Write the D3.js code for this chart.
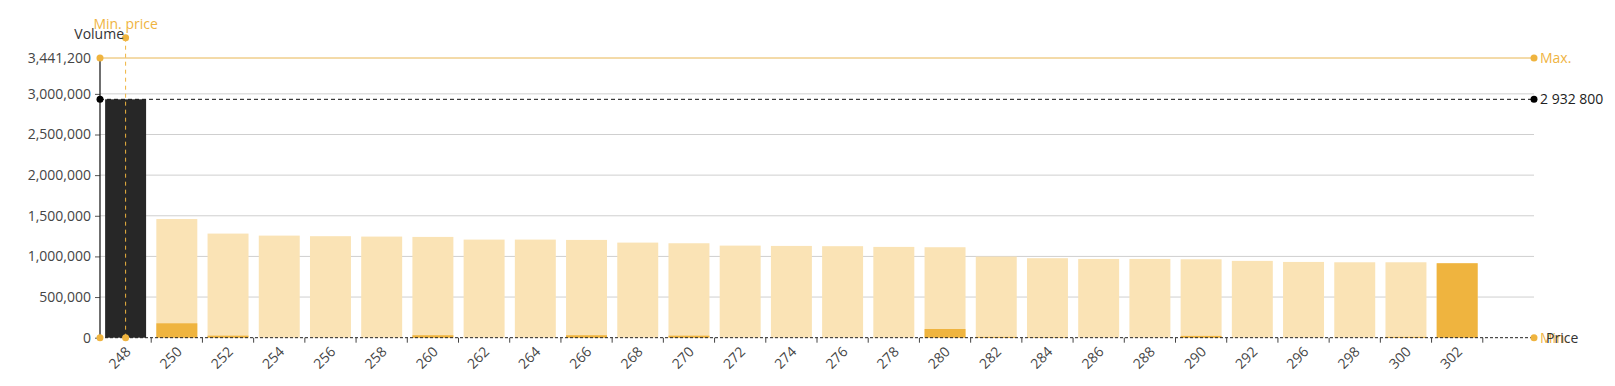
<!DOCTYPE html>
<html>
<head>
<meta charset="utf-8">
<script src="https://cdn.jsdelivr.net/npm/d3@7/dist/d3.min.js"></script>
<style>
  html, body { margin: 0; padding: 0; background: #fff; }
  svg { display: block; font-family: "Open Sans", "Noto Sans", sans-serif; }
</style>
</head>
<body>
<svg id="chart" width="1615" height="386"></svg>
<script>
// ---- data ----
const categories = ["248","250","252","254","256","258","260","262","264","266","268","270","272","274","276","278","280","282","284","286","288","290","292","296","298","300","302"];
const volumes = [2932800,1460000,1281000,1256000,1249000,1244000,1240000,1207000,1207000,1203000,1170000,1162000,1133000,1129000,1126000,1117000,1113000,998000,978000,969000,969000,965000,945000,932000,928000,928000,916000];
const highlighted = [0,177000,25000,0,0,0,30000,0,0,30000,0,25000,0,0,0,0,107000,10000,5000,0,0,22000,0,0,0,10000,916000];
const yTicks = [0,500000,1000000,1500000,2000000,2500000,3000000];
const yMaxValue = 3441200;
const refValue = 2932800;
const minPriceCategory = "248";
const labels = { yTitle: "Volume", xTitle: "Price", minPrice: "Min. price", max: "Max.", min: "Min." };

(function () {
// ---- layout ----
const mLeft = 100, mRight = 1534, mTop = 58, mBottom = 337.7;
const ORANGE = "#EFB43F", LIGHT = "#FAE3B5", DARK = "#272727", LINE_OR = "#E8B652";

const svg = d3.select("#chart");
const xDomain = categories.concat(["__empty__"]);
const x = d3.scaleBand().domain(xDomain).range([mLeft, mRight]).paddingInner(0.2).paddingOuter(0.1);
const y = d3.scaleLinear().domain([0, yMaxValue]).range([mBottom, mTop]);
const step = x.step();
const maxVol = d3.max(volumes);

// gridlines
svg.append("g").selectAll("line").data(yTicks.filter(d => d > 0)).join("line")
  .attr("x1", mLeft).attr("x2", mRight)
  .attr("y1", d => y(d)).attr("y2", d => y(d))
  .attr("stroke", "#cfcfcf").attr("stroke-width", 1);

// bars
const data = categories.map((c, i) => ({ c, v: volumes[i], h: highlighted[i] }));
svg.append("g").selectAll("rect").data(data).join("rect")
  .attr("x", d => x(d.c)).attr("width", x.bandwidth())
  .attr("y", d => y(d.v)).attr("height", d => y(0) - y(d.v))
  .attr("fill", d => d.v === maxVol ? DARK : LIGHT);
svg.append("g").selectAll("rect").data(data.filter(d => d.h > 0 && d.v !== maxVol)).join("rect")
  .attr("x", d => x(d.c)).attr("width", x.bandwidth())
  .attr("y", d => y(d.h)).attr("height", d => y(0) - y(d.h))
  .attr("fill", ORANGE);

// max line
svg.append("line").attr("x1", mLeft).attr("x2", mRight).attr("y1", y(yMaxValue)).attr("y2", y(yMaxValue))
  .attr("stroke", LINE_OR).attr("stroke-width", 1);
// reference line
svg.append("line").attr("x1", mLeft).attr("x2", mRight).attr("y1", y(refValue)).attr("y2", y(refValue))
  .attr("stroke", "#111").attr("stroke-width", 1).attr("stroke-dasharray", "4,3");
// zero line
svg.append("line").attr("x1", mLeft).attr("x2", mRight).attr("y1", y(0)).attr("y2", y(0))
  .attr("stroke", "#222").attr("stroke-width", 1).attr("stroke-dasharray", "3,2");

// min price vertical
const mx = x(minPriceCategory) + x.bandwidth() / 2;
svg.append("line").attr("x1", mx).attr("x2", mx).attr("y1", 37.7).attr("y2", y(0))
  .attr("stroke", ORANGE).attr("stroke-width", 1).attr("stroke-dasharray", "4,4");

// y axis
const yAxis = d3.axisLeft(y).tickValues(yTicks).tickFormat(d3.format(",")).tickSize(5).tickPadding(4);
const gy = svg.append("g").attr("transform", `translate(${mLeft},0)`).call(yAxis);
gy.select(".domain").remove();
gy.selectAll(".tick line").attr("stroke", "#555");
gy.selectAll(".tick text").attr("fill", "#454545").style("font-size", "14px").style("font-family", "Open Sans");
svg.append("line").attr("x1", mLeft).attr("x2", mLeft).attr("y1", y(yMaxValue)).attr("y2", y(0))
  .attr("stroke", "#222").attr("stroke-width", 1.3);
svg.append("text").attr("x", mLeft - 9).attr("y", y(yMaxValue)).attr("dy", "0.35em")
  .attr("text-anchor", "end").attr("fill", "#454545").style("font-size", "14px")
  .text(d3.format(",")(yMaxValue));

// x axis labels
const xAxis = d3.axisBottom(x).tickValues(categories).tickSize(0).tickPadding(0);
const gx = svg.append("g").attr("transform", `translate(0,${mBottom})`).call(xAxis);
gx.select(".domain").remove();
gx.selectAll(".tick text").attr("fill", "#454545").style("font-size", "14px").style("font-family", "Open Sans")
  .attr("text-anchor", "end").attr("dy", 0).attr("y", 0)
  .attr("transform", "translate(6,15) rotate(-45)");
// edge ticks
svg.append("g").selectAll("line").data(categories).join("line")
  .attr("x1", d => x(d) + x.bandwidth() + step * 0.1).attr("x2", d => x(d) + x.bandwidth() + step * 0.1)
  .attr("y1", mBottom).attr("y2", mBottom + 5).attr("stroke", "#444").attr("stroke-width", 1);

// dots
const dots = [
  [mLeft, y(yMaxValue), ORANGE], [mRight, y(yMaxValue), ORANGE],
  [mLeft, y(refValue), "#000"], [mRight, y(refValue), "#000"],
  [mLeft, y(0), ORANGE], [mx, y(0), ORANGE], [mRight, y(0), ORANGE],
  [mx, 37.7, ORANGE]
];
svg.append("g").selectAll("circle").data(dots).join("circle")
  .attr("cx", d => d[0]).attr("cy", d => d[1]).attr("r", 3.5).attr("fill", d => d[2]);

// texts
svg.append("text").attr("x", mRight + 6).attr("y", y(yMaxValue)).attr("dy", "0.35em")
  .attr("fill", ORANGE).style("font-size", "14px").text(labels.max);
svg.append("text").attr("x", mRight + 6).attr("y", y(refValue)).attr("dy", "0.35em")
  .attr("fill", "#222").style("font-size", "14px").text(d3.format(",")(refValue).replace(/,/g, " "));
svg.append("text").attr("x", mRight + 6).attr("y", y(0)).attr("dy", "0.35em")
  .attr("fill", ORANGE).style("font-size", "14px").text(labels.min);
svg.append("text").attr("x", mRight + 12).attr("y", y(0)).attr("dy", "0.35em")
  .attr("fill", "#333").style("font-size", "14px").text(labels.xTitle);
svg.append("text").attr("x", 124).attr("y", 39)
  .attr("text-anchor", "end").attr("fill", "#333").style("font-size", "14px").text(labels.yTitle);
svg.append("text").attr("x", mx).attr("y", 29)
  .attr("text-anchor", "middle").attr("fill", ORANGE).style("font-size", "14px").text(labels.minPrice);
})();
</script>
</body>
</html>
